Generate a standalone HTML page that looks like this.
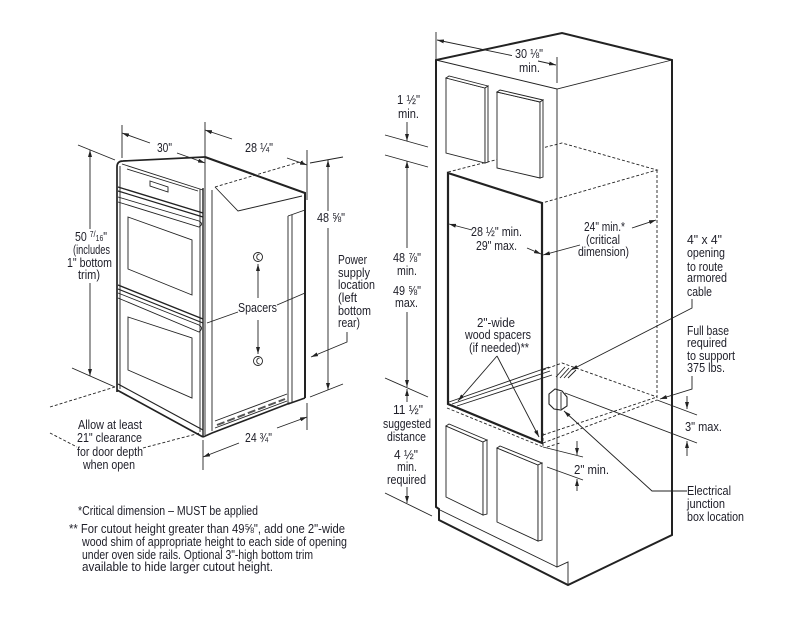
<!DOCTYPE html>
<html><head><meta charset="utf-8">
<style>
html,body{margin:0;padding:0;background:#fff;}
svg{display:block;}
text{font-family:"Liberation Sans",Arial,sans-serif;font-size:12.5px;fill:#1e1e28;}
</style></head><body>
<svg width="800" height="628" viewBox="0 0 800 628" xmlns="http://www.w3.org/2000/svg">
<defs>
<marker id="ar" viewBox="0 0 10 6" refX="10" refY="3" markerWidth="7" markerHeight="4" markerUnits="userSpaceOnUse" orient="auto-start-reverse" preserveAspectRatio="none"><path d="M0,0L10,3L0,6z" fill="#222"/></marker>
</defs>
<rect width="800" height="628" fill="#fff"/>

<!-- ================= OVEN ================= -->
<g fill="none" stroke="#222" stroke-width="0.9">
  <!-- front face -->
  <path d="M117,392 V167 Q117,161 123,161 L205,157" stroke-width="1.7"/>
  <path d="M120,166 V389"/>
  <path d="M122,164 L203,190"/>
  <path d="M127,169 L198,191"/>
  <path d="M150,181 L168,187 L168,192 L150,186 Z"/>
  <path d="M118,187 L203,213" stroke-width="1.4"/>
  <path d="M118,191 L203,217" stroke-width="1.2"/>
  <path d="M118,197 L199,221 Q204,224 199,227 L118,202"/>
  <path d="M128,217 L192,240 L192,295 L128,269 Z"/>
  <path d="M118,285 L203,319" stroke-width="1.4"/>
  <path d="M118,289 L203,323" stroke-width="1.2"/>
  <path d="M118,293 L199,325 Q204,328 199,332 L118,298"/>
  <path d="M128,317 L192,338 L192,398 L128,370 Z"/>
  <path d="M118,384 L203,430" stroke-width="1.2"/>
  <path d="M117,390 L203,437" stroke-width="1.7"/>
  <path d="M200,189 V432"/>
  <path d="M203,188 V437" stroke-width="1.4"/>
  <!-- side -->
  <path d="M205,122 V435"/>
  <path d="M212,190 V431"/>
  <path d="M205,157 L305,193 V398" stroke-width="2"/>
  <path d="M215,187 L238,211 L302,196"/>
  <path d="M215,187 L303,161" stroke-dasharray="3,2"/>
  <path d="M288,216 L305,210"/>
  <path d="M288,216 V403"/>
  <path d="M292,215 V402"/>
  <path d="M288,404 L305,398" stroke-width="1.6"/>
  <path d="M203,437 L212,433 L290,403" stroke-width="1.6"/>
  <path d="M215,421 L287,394"/>
  <path d="M215,428 L287,401"/>
  <path d="M217,425 L285,399" stroke-width="2" stroke-dasharray="8,3" stroke="#555"/>
  <!-- spacers -->
  <circle cx="258" cy="257" r="4.5"/>
  <path d="M259.5,254.3 A2.2,2.8 0 1 0 259.5,259.7"/>
  <circle cx="258" cy="361" r="4.5"/>
  <path d="M259.5,358.3 A2.2,2.8 0 1 0 259.5,363.7"/>
  <path d="M258,298 V264" marker-end="url(#ar)"/>
  <path d="M258,320 V354" marker-end="url(#ar)"/>
  <path d="M207,323 L238,312"/>
  <path d="M277,305 L305,293"/>

  <!-- dims -->
  <path d="M122,125 V158"/>
  <path d="M122,133 L150,143" marker-start="url(#ar)"/>
  <path d="M177,153 L205,163" marker-end="url(#ar)"/>
  <path d="M205,130 L232,139" marker-start="url(#ar)"/>
  <path d="M287,158 L307,165" marker-end="url(#ar)"/>
  <path d="M307,150 V200"/>
  <path d="M328,160 V211" marker-start="url(#ar)"/>
  <path d="M328,228 V390" marker-end="url(#ar)"/>
  <path d="M310,163 L343,157"/>
  <path d="M310,397 L343,384"/>
  <path d="M90,150 V229" marker-start="url(#ar)"/>
  <path d="M90,283 V376" marker-end="url(#ar)"/>
  <path d="M78,145 L115,160"/>
  <path d="M72,368 L115,387"/>
  <path d="M203,440 V470"/>
  <path d="M307,403 V430"/>
  <path d="M203,457 L239,443" marker-start="url(#ar)"/>
  <path d="M277,428 L307,417" marker-end="url(#ar)"/>
  <path d="M347,332 V342 L311,357" marker-end="url(#ar)"/>
  <path d="M115,387 L50,407" stroke-dasharray="3,2"/>
  <path d="M50,433 L77,447" stroke-dasharray="3,2"/>
  <path d="M143,448 L200,433" stroke-dasharray="3,2"/>
</g>

<!-- ================= CABINET ================= -->
<g fill="none" stroke="#222" stroke-width="0.9">
  <path d="M436,507 V60 L562,33 L672,60 V535 L568,585 L439,520 V509 Z" stroke-width="2" stroke-linejoin="miter"/>
  <path d="M436,60 L557,89 L672,60"/>
  <path d="M557,89 V567 L568,562 V585"/>
  <path d="M440,510 L557,567"/>
  <!-- dashed oven box -->
  <path d="M448,172 L562,143 L657,170 L542,203" stroke-dasharray="3,2"/>
  <path d="M657,170 V400" stroke-dasharray="3,2"/>
  <!-- opening -->
  <path d="M448,173 L542,203 V443 L448,404 Z" stroke-width="2.2"/>
  <!-- doors -->
  <g fill="#fff">
    <path d="M446,78 L485,88 V163 L446,153 Z"/>
    <path d="M446,78 L449,76 L488,86 L485,88 Z"/>
    <path d="M485,88 L488,86 V162 L485,163 Z"/>
    <path d="M497,92 L540,102 V178 L497,168 Z"/>
    <path d="M497,92 L500,90 L543,100 L540,102 Z"/>
    <path d="M540,102 L543,100 V177 L540,178 Z"/>
    <path d="M446,426 L483,442 V515 L446,497 Z"/>
    <path d="M446,426 L449,424 L487,440 L483,442 Z"/>
    <path d="M483,442 L487,440 V514 L483,515 Z"/>
    <path d="M497,448 L538,465 V541 L497,522 Z"/>
    <path d="M497,448 L500,446 L542,463 L538,465 Z"/>
    <path d="M538,465 L542,463 V540 L538,541 Z"/>
  </g>
  <!-- base area -->
  <path d="M449,402 L549,367"/>
  <path d="M452,404 L550,371"/>
  <path d="M457,406 L552,375"/>
  <path d="M543,370 L562,363 L657,397" stroke-dasharray="3,2"/>
  <path d="M543,435 L657,397" stroke-dasharray="3,2"/>
  <path d="M543,443 L657,400" stroke-dasharray="3,2"/>
  <path d="M447,408 L543,447" stroke-dasharray="3,2"/>
  <path d="M543,433 V447" stroke-dasharray="3,2"/>
  <path d="M547,447 L560,443" stroke-dasharray="3,2"/>
  <path d="M556,377 L565,367 M560,378 L569,368 M564,378 L573,368 M568,378 L576,370"/>
  <!-- junction box -->
  <path d="M549,394 L555,389 L562,391 L567,397 L567,406 L561,410 L554,409 L549,404 Z" stroke-width="1.1"/>
  <path d="M561,392 V409"/>
  <!-- leaders -->
  <path d="M692,299 V308 L571,370" marker-end="url(#ar)"/>
  <path d="M692,376 V389 L660,399" marker-end="url(#ar)"/>
  <path d="M687,491 H652 L564,411" marker-end="url(#ar)"/>
  <path d="M497,356 L458,401" marker-end="url(#ar)"/>
  <path d="M497,356 L539,437" marker-end="url(#ar)"/>
  <!-- opening width / depth arrows -->
  <path d="M472,230 L449,224" marker-end="url(#ar)"/>
  <path d="M527,248 L541,254" marker-end="url(#ar)"/>
  <path d="M580,245 L543,255" marker-end="url(#ar)"/>
  <path d="M632,228 L656,220" marker-end="url(#ar)"/>
  <!-- 3" max -->
  <path d="M565,393 L697,443"/>
  <path d="M657,400 L697,415"/>
  <path d="M687,396 V409" marker-end="url(#ar)"/>
  <path d="M687,456 V441" marker-end="url(#ar)"/>
  <!-- 2" min -->
  <path d="M543,447 L583,457"/>
  <path d="M547,467 L583,480"/>
  <path d="M577,441 V455" marker-end="url(#ar)"/>
  <path d="M577,491 V479" marker-end="url(#ar)"/>
  <!-- left dims -->
  <path d="M385,135 L428,147"/>
  <path d="M385,155 L428,167"/>
  <path d="M385,378 L428,397"/>
  <path d="M385,493 L432,516"/>
  <path d="M407,122 V141" marker-end="url(#ar)"/>
  <path d="M407,248 V161" marker-end="url(#ar)"/>
  <path d="M407,312 V387" marker-end="url(#ar)"/>
  <path d="M407,402 V389" marker-end="url(#ar)"/>
  <path d="M407,487 V503" marker-end="url(#ar)"/>
  <!-- top dim -->
  <path d="M436,32 V60"/>
  <path d="M557,57 V83"/>
  <path d="M512,55.6 L437,40" marker-end="url(#ar)"/>
  <path d="M538,61 L556,65" marker-end="url(#ar)"/>
</g>

<!-- ================= TEXT: OVEN ================= -->
<text x="157" y="152" textLength="15" lengthAdjust="spacingAndGlyphs">30"</text>
<text x="245" y="152" textLength="28" lengthAdjust="spacingAndGlyphs">28 ¼"</text>
<text x="317" y="222" textLength="28" lengthAdjust="spacingAndGlyphs">48 ⅝"</text>
<text x="75" y="241" textLength="32" lengthAdjust="spacingAndGlyphs">50 <tspan font-size="8" dy="-4">7</tspan><tspan font-size="9">/</tspan><tspan font-size="8" dy="4">16</tspan>"</text>
<text x="73" y="254" textLength="37" lengthAdjust="spacingAndGlyphs">(includes</text>
<text x="67" y="267" textLength="45" lengthAdjust="spacingAndGlyphs">1" bottom</text>
<text x="78" y="279" textLength="22" lengthAdjust="spacingAndGlyphs">trim)</text>
<text x="238" y="312" textLength="39" lengthAdjust="spacingAndGlyphs">Spacers</text>
<text x="338" y="264" textLength="29" lengthAdjust="spacingAndGlyphs">Power</text>
<text x="338" y="277" textLength="32" lengthAdjust="spacingAndGlyphs">supply</text>
<text x="338" y="289" textLength="37" lengthAdjust="spacingAndGlyphs">location</text>
<text x="338" y="302" textLength="19" lengthAdjust="spacingAndGlyphs">(left</text>
<text x="338" y="315" textLength="33" lengthAdjust="spacingAndGlyphs">bottom</text>
<text x="338" y="327" textLength="22" lengthAdjust="spacingAndGlyphs">rear)</text>
<text x="78" y="429" textLength="64" lengthAdjust="spacingAndGlyphs">Allow at least</text>
<text x="77" y="442" textLength="65" lengthAdjust="spacingAndGlyphs">21" clearance</text>
<text x="77" y="456" textLength="66" lengthAdjust="spacingAndGlyphs">for door depth</text>
<text x="83" y="469" textLength="52" lengthAdjust="spacingAndGlyphs">when open</text>
<text x="245" y="442" textLength="27" lengthAdjust="spacingAndGlyphs">24 ¾"</text>

<!-- ================= TEXT: CABINET ================= -->
<text x="515" y="58" textLength="28" lengthAdjust="spacingAndGlyphs">30 ⅛"</text>
<text x="519" y="72" textLength="21" lengthAdjust="spacingAndGlyphs">min.</text>
<text x="397" y="104" textLength="23" lengthAdjust="spacingAndGlyphs">1 ½"</text>
<text x="398" y="118" textLength="21" lengthAdjust="spacingAndGlyphs">min.</text>
<text x="471" y="236" textLength="51" lengthAdjust="spacingAndGlyphs">28 ½" min.</text>
<text x="476" y="250" textLength="41" lengthAdjust="spacingAndGlyphs">29" max.</text>
<text x="584" y="231" textLength="41" lengthAdjust="spacingAndGlyphs">24" min.*</text>
<text x="586" y="244" textLength="34" lengthAdjust="spacingAndGlyphs">(critical</text>
<text x="578" y="256" textLength="51" lengthAdjust="spacingAndGlyphs">dimension)</text>
<text x="687" y="244" textLength="35" lengthAdjust="spacingAndGlyphs">4" x 4"</text>
<text x="687" y="257" textLength="38" lengthAdjust="spacingAndGlyphs">opening</text>
<text x="687" y="271" textLength="36" lengthAdjust="spacingAndGlyphs">to route</text>
<text x="687" y="282" textLength="40" lengthAdjust="spacingAndGlyphs">armored</text>
<text x="687" y="296" textLength="25" lengthAdjust="spacingAndGlyphs">cable</text>
<text x="393" y="262" textLength="28" lengthAdjust="spacingAndGlyphs">48 ⅞"</text>
<text x="397" y="275" textLength="20" lengthAdjust="spacingAndGlyphs">min.</text>
<text x="393" y="295" textLength="28" lengthAdjust="spacingAndGlyphs">49 ⅝"</text>
<text x="395" y="307" textLength="23" lengthAdjust="spacingAndGlyphs">max.</text>
<text x="477" y="327" textLength="38" lengthAdjust="spacingAndGlyphs">2"-wide</text>
<text x="465" y="339" textLength="66" lengthAdjust="spacingAndGlyphs">wood spacers</text>
<text x="469" y="352" textLength="60" lengthAdjust="spacingAndGlyphs">(if needed)**</text>
<text x="687" y="335" textLength="42" lengthAdjust="spacingAndGlyphs">Full base</text>
<text x="687" y="347" textLength="40" lengthAdjust="spacingAndGlyphs">required</text>
<text x="687" y="360" textLength="48" lengthAdjust="spacingAndGlyphs">to support</text>
<text x="687" y="372" textLength="38" lengthAdjust="spacingAndGlyphs">375 lbs.</text>
<text x="685" y="431" textLength="37" lengthAdjust="spacingAndGlyphs">3" max.</text>
<text x="393" y="414" textLength="30" lengthAdjust="spacingAndGlyphs">11 ½"</text>
<text x="383" y="428" textLength="48" lengthAdjust="spacingAndGlyphs">suggested</text>
<text x="387" y="441" textLength="39" lengthAdjust="spacingAndGlyphs">distance</text>
<text x="394" y="459" textLength="24" lengthAdjust="spacingAndGlyphs">4 ½"</text>
<text x="397" y="471" textLength="20" lengthAdjust="spacingAndGlyphs">min.</text>
<text x="387" y="484" textLength="39" lengthAdjust="spacingAndGlyphs">required</text>
<text x="574" y="474" textLength="35" lengthAdjust="spacingAndGlyphs">2" min.</text>
<text x="687" y="495" textLength="44" lengthAdjust="spacingAndGlyphs">Electrical</text>
<text x="687" y="508" textLength="38" lengthAdjust="spacingAndGlyphs">junction</text>
<text x="687" y="521" textLength="57" lengthAdjust="spacingAndGlyphs">box location</text>

<!-- ================= FOOTNOTES ================= -->
<text x="78" y="515" textLength="180" lengthAdjust="spacingAndGlyphs">*Critical dimension – MUST be applied</text>
<text x="69" y="533" textLength="276" lengthAdjust="spacingAndGlyphs">** For cutout height greater than 49⅝", add one 2"-wide</text>
<text x="82" y="546" textLength="265" lengthAdjust="spacingAndGlyphs">wood shim of appropriate height to each side of opening</text>
<text x="82" y="559" textLength="231" lengthAdjust="spacingAndGlyphs">under oven side rails. Optional 3"-high bottom trim</text>
<text x="82" y="571" textLength="191" lengthAdjust="spacingAndGlyphs">available to hide larger cutout height.</text>
</svg>
</body></html>
